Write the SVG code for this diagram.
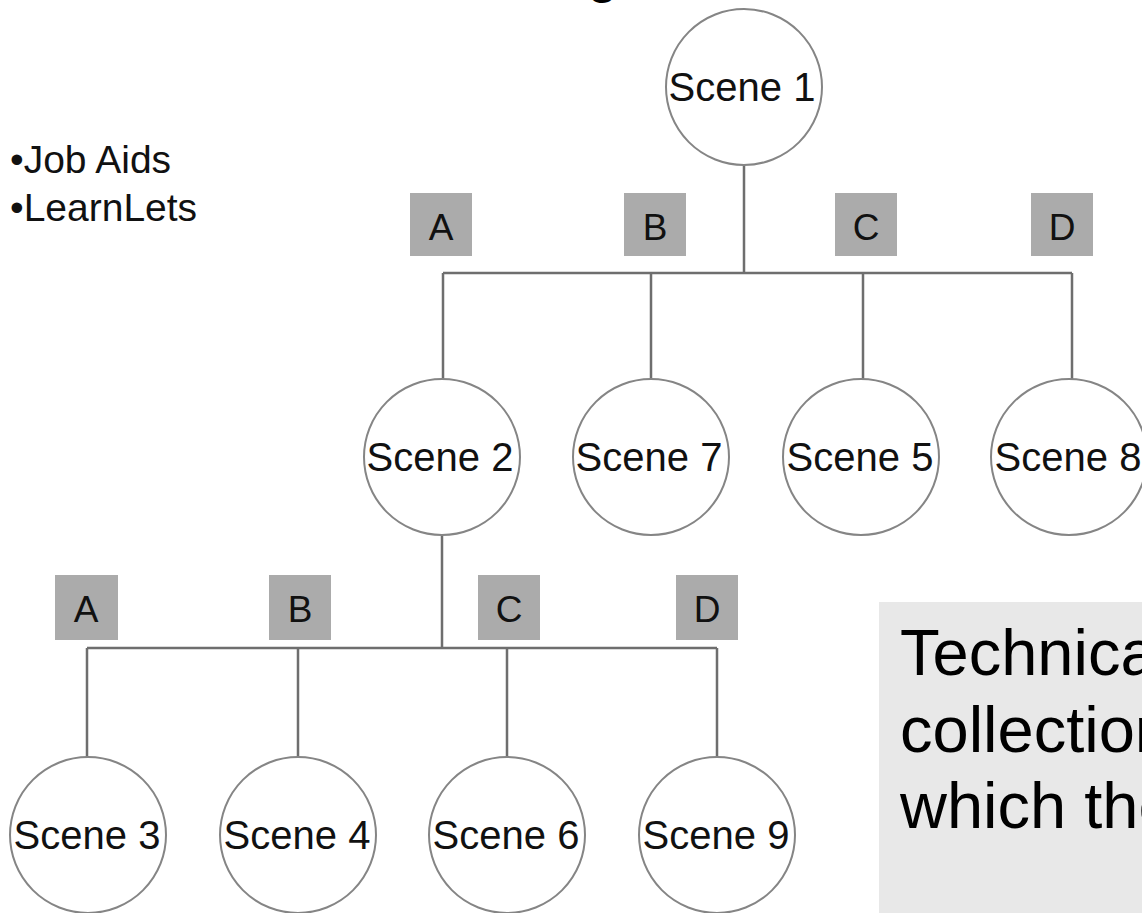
<svg xmlns="http://www.w3.org/2000/svg" width="1142" height="913" viewBox="0 0 1142 913">
<style>
.scene{fill:#fff;stroke:#858585;stroke-width:2}
.st{font-family:"Liberation Sans",Arial,sans-serif;font-size:40px;fill:#111;text-anchor:middle}
.lb{fill:#ababab}
.lt{font-family:"Liberation Sans",Arial,sans-serif;font-size:37px;fill:#111;text-anchor:middle}
.con{stroke:#6e6e6e;stroke-width:2.5;fill:none}
.side{font-family:"Liberation Sans",Arial,sans-serif;font-size:39px;fill:#111}
</style>
<rect width="1142" height="913" fill="#fff"/>
<text x="588" y="-7" font-family="Liberation Sans,Arial,sans-serif" font-weight="bold" font-size="48" fill="#000">g</text>
<g id="legend">
<text class="side" x="10" y="173">•Job Aids</text>
<text class="side" x="10" y="221">•LearnLets</text>
</g>
<g id="connectors">
<path class="con" d="M744 165V273M443 273H1072M443 273V379M651 273V379M863 273V379M1072 273V379"/>
<path class="con" d="M442 535V648M87 648H717M87 648V757M298 648V757M507 648V757M717 648V757"/>
</g>
<g id="labels-top">
<rect class="lb" x="410" y="193" width="62" height="63"/><text class="lt" x="441" y="240">A</text>
<rect class="lb" x="624" y="193" width="62" height="63"/><text class="lt" x="655" y="240">B</text>
<rect class="lb" x="835" y="193" width="62" height="63"/><text class="lt" x="866" y="240">C</text>
<rect class="lb" x="1031" y="193" width="62" height="63"/><text class="lt" x="1062" y="240">D</text>
</g>
<g id="labels-bottom">
<rect class="lb" x="55" y="575" width="63" height="65"/><text class="lt" x="86" y="622">A</text>
<rect class="lb" x="269" y="575" width="62" height="65"/><text class="lt" x="300" y="622">B</text>
<rect class="lb" x="478" y="575" width="62" height="65"/><text class="lt" x="509" y="622">C</text>
<rect class="lb" x="676" y="575" width="62" height="65"/><text class="lt" x="707" y="622">D</text>
</g>
<g id="scene1"><circle class="scene" cx="744" cy="87" r="78"/><text class="st" x="742" y="101">Scene 1</text></g>
<g id="scene2"><circle class="scene" cx="442" cy="457" r="78"/><text class="st" x="440" y="471">Scene 2</text></g>
<g id="scene7"><circle class="scene" cx="651" cy="457" r="78"/><text class="st" x="649" y="471">Scene 7</text></g>
<g id="scene5"><circle class="scene" cx="861" cy="457" r="78"/><text class="st" x="860" y="471">Scene 5</text></g>
<g id="scene8"><circle class="scene" cx="1069" cy="457" r="78"/><text class="st" x="1068" y="471">Scene 8</text></g>
<g id="scene3"><circle class="scene" cx="88" cy="835" r="78"/><text class="st" x="87" y="849">Scene 3</text></g>
<g id="scene4"><circle class="scene" cx="298" cy="835" r="78"/><text class="st" x="297" y="849">Scene 4</text></g>
<g id="scene6"><circle class="scene" cx="507" cy="835" r="78"/><text class="st" x="506" y="849">Scene 6</text></g>
<g id="scene9"><circle class="scene" cx="717" cy="835" r="78"/><text class="st" x="716" y="849">Scene 9</text></g>
<g id="note">
<rect x="879" y="602" width="270" height="320" fill="#e8e8e8"/>
<text font-family="Liberation Sans,Arial,sans-serif" font-size="65" fill="#000">
<tspan x="900" y="675">Technica</tspan>
<tspan x="900" y="752">collection</tspan>
<tspan x="900" y="828">which the</tspan>
</text>
</g>
</svg>
